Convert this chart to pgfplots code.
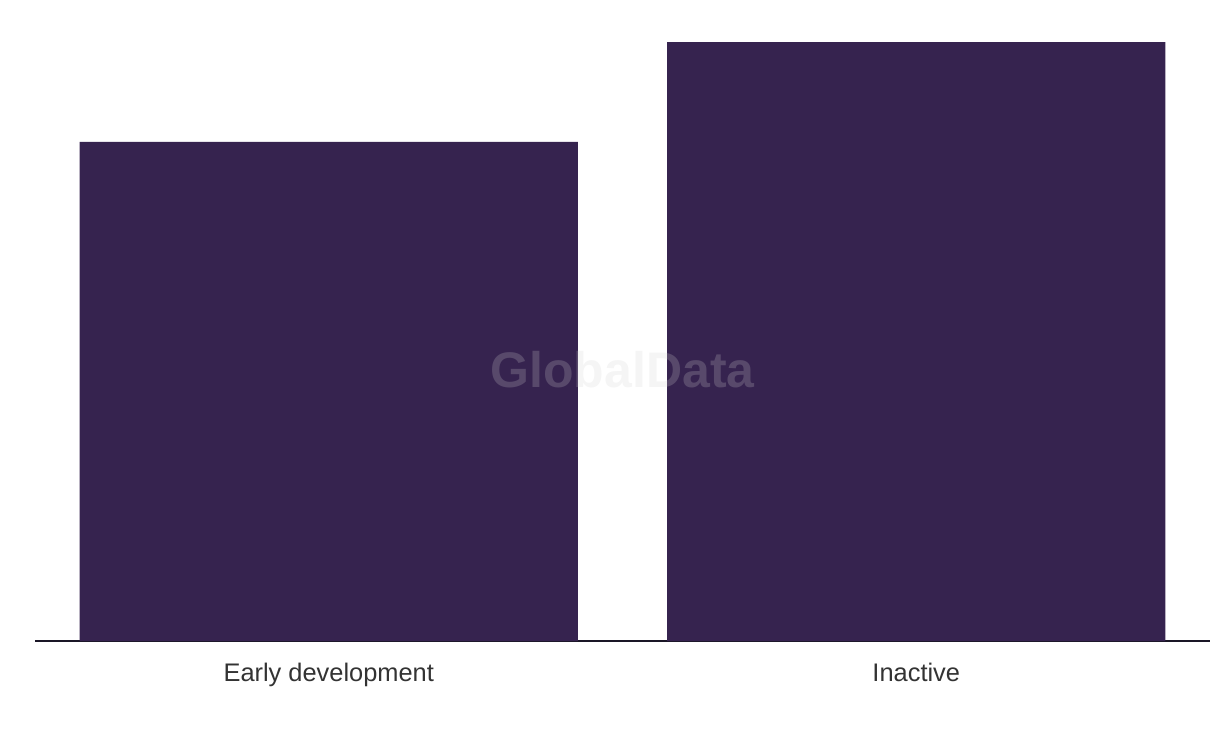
\documentclass[border=0pt]{standalone}
\usepackage{fontspec}
\setmainfont{Liberation Sans}
\usepackage{pgfplots}
\pgfplotsset{compat=1.18}
\definecolor{barc}{HTML}{36234F}
\definecolor{axc}{HTML}{1A1626}
\definecolor{txt}{HTML}{333333}
\definecolor{wm}{HTML}{D1D1D1}
\begin{document}
\begin{tikzpicture}
\path[use as bounding box] (-17.5pt,-47.5pt) rectangle (592.5pt,320.5pt);
\begin{axis}[
  scale only axis,
  width=587.5pt, height=299.5pt,
  xmin=-0.5, xmax=1.5, ymin=0, ymax=6,
  axis x line*=bottom, axis y line=none,
  x axis line style={draw=axc, line width=1pt, -},
  xtick={0,1}, xticklabels={Early development, Inactive},
  xtick style={draw=none},
  xticklabel style={font=\fontsize{12.7pt}{15pt}\selectfont, text=txt, yshift=-3pt},
  ytick=\empty,
  ybar, bar width=0.848, bar shift=0pt,
  clip=false,
]
\addplot[fill=barc, draw=none] coordinates {(0,5) (1,6)};
\node[font=\fontsize{25pt}{30pt}\selectfont\bfseries, text=wm, text opacity=0.22] at (axis cs:0.5,2.72) {GlobalData};
\end{axis}
\end{tikzpicture}
\end{document}
